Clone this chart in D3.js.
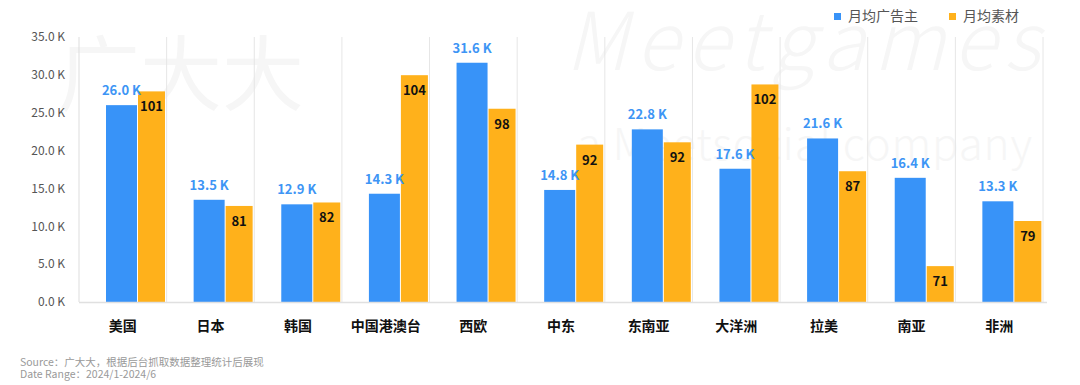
<html>
<head>
<meta charset="utf-8">
<title>月均广告主 / 月均素材</title>
<script src="https://cdn.jsdelivr.net/npm/d3@7"></script>
<style>
  body { margin: 0; background: #fff; }
  text { font-family: "Noto Sans CJK SC", "Noto Sans", sans-serif; }
  .tick text { fill: #555; font-size: 12px; }
</style>
</head>
<body>
<svg id="chart" width="1080" height="385"></svg>
<script>
// data
var regions = ["美国", "日本", "韩国", "中国港澳台", "西欧", "中东", "东南亚", "大洋洲", "拉美", "南亚", "非洲"];
var advertisers = [26.0, 13.5, 12.9, 14.3, 31.6, 14.8, 22.8, 17.6, 21.6, 16.4, 13.3];   // K
var creatives = [101.2, 81.4, 82.0, 104.0, 98.2, 92.0, 92.4, 102.4, 87.4, 71.0, 78.8];
var yTicks = [0, 5, 10, 15, 20, 25, 30, 35];
var seriesNames = ["月均广告主", "月均素材"];

var blue = "#3893F8", orange = "#FFB11B";
var svg = d3.select("#chart");
var plotLeft = 79, plotRight = 1043, plotTop = 37, plotBottom = 302;

// faint watermarks
var wm = svg.append("g").attr("fill", "#f6f6f6");
wm.append("text").attr("x", 58).attr("y", 104).attr("font-size", 82).text("广大大");
wm.append("text").attr("x", 565).attr("y", 70).attr("font-size", 80).attr("font-weight", 300)
  .attr("font-style", "italic").attr("textLength", 475).text("Meetgames");
wm.append("text").attr("x", 577).attr("y", 160).attr("font-size", 44).attr("font-weight", 300)
  .attr("textLength", 455).text("a Meetsocial company");

var x = d3.scaleBand().domain(regions).range([plotLeft, plotRight]);
var y = d3.scaleLinear().domain([0, 35]).range([plotBottom, plotTop]);
var y2 = d3.scaleLinear().domain([64.8, 110.6]).range([plotBottom, plotTop]);   // hidden right axis

// vertical separators
svg.append("g").selectAll("line")
  .data(regions).enter().append("line")
  .attr("x1", function (d) { return x(d) + x.bandwidth(); })
  .attr("x2", function (d) { return x(d) + x.bandwidth(); })
  .attr("y1", plotTop).attr("y2", plotBottom)
  .attr("stroke", "#e6e6e6").attr("stroke-width", 1);

svg.append("line").attr("x1", plotLeft).attr("x2", plotLeft).attr("y1", plotTop).attr("y2", plotBottom)
  .attr("stroke", "#ddd");

// y axis
var yAxis = svg.append("g")
  .attr("transform", "translate(" + (plotLeft - 12) + ",0)")
  .call(d3.axisLeft(y).tickValues(yTicks).tickSize(0).tickPadding(2)
    .tickFormat(function (d) { return d3.format(".1f")(d) + " K"; }));
yAxis.select(".domain").remove();

// bars
var bw1 = 31, bw2 = 27, off1 = 27, off2 = 59;
svg.append("g").selectAll("rect")
  .data(regions).enter().append("rect")
  .attr("x", function (d) { return x(d) + off1; })
  .attr("y", function (d, i) { return y(advertisers[i]); })
  .attr("width", bw1)
  .attr("height", function (d, i) { return plotBottom - y(advertisers[i]); })
  .attr("fill", blue);

svg.append("g").selectAll("rect")
  .data(regions).enter().append("rect")
  .attr("x", function (d) { return x(d) + off2; })
  .attr("y", function (d, i) { return y2(creatives[i]); })
  .attr("width", bw2)
  .attr("height", function (d, i) { return plotBottom - y2(creatives[i]); })
  .attr("fill", orange);

// baseline
svg.append("line").attr("x1", plotLeft).attr("x2", plotRight + 4)
  .attr("y1", plotBottom + 0.5).attr("y2", plotBottom + 0.5)
  .attr("stroke", "#e0e0e0").attr("stroke-width", 1.5);

// value labels
svg.append("g").selectAll("text")
  .data(regions).enter().append("text")
  .attr("x", function (d) { return x(d) + off1 + bw1 / 2; })
  .attr("y", function (d, i) { return y(advertisers[i]) - 10; })
  .attr("text-anchor", "middle")
  .attr("font-size", 13).attr("font-weight", "bold").attr("fill", "#3D95F5")
  .text(function (d, i) { return advertisers[i].toFixed(1) + " K"; });

svg.append("g").selectAll("text")
  .data(regions).enter().append("text")
  .attr("x", function (d) { return x(d) + off2 + bw2 / 2; })
  .attr("y", function (d, i) { return y2(creatives[i]) + 20; })
  .attr("text-anchor", "middle")
  .attr("font-size", 13).attr("font-weight", "bold").attr("fill", "#111")
  .text(function (d, i) { return Math.round(creatives[i]); });

// category labels
svg.append("g").selectAll("text")
  .data(regions).enter().append("text")
  .attr("x", function (d) { return x(d) + x.bandwidth() / 2; })
  .attr("y", 331)
  .attr("text-anchor", "middle")
  .attr("font-size", 14).attr("font-weight", "bold").attr("fill", "#111")
  .text(function (d) { return d; });

// legend
var legend = svg.append("g").selectAll("g")
  .data(seriesNames).enter().append("g")
  .attr("transform", function (d, i) { return "translate(" + (834 + i * 115) + ",13)"; });
legend.append("rect").attr("width", 7).attr("height", 7)
  .attr("fill", function (d, i) { return i == 0 ? blue : orange; });
legend.append("text").attr("x", 14).attr("y", 8)
  .attr("font-size", 14).attr("fill", "#555")
  .text(function (d) { return d; });

// source note
svg.append("text").attr("x", 20).attr("y", 366).attr("font-size", 10.5).attr("fill", "#999")
  .text("Source：广大大，根据后台抓取数据整理统计后展现");
svg.append("text").attr("x", 20).attr("y", 377.5).attr("font-size", 10.5).attr("fill", "#999")
  .text("Date Range：2024/1-2024/6");
</script>
</body>
</html>
